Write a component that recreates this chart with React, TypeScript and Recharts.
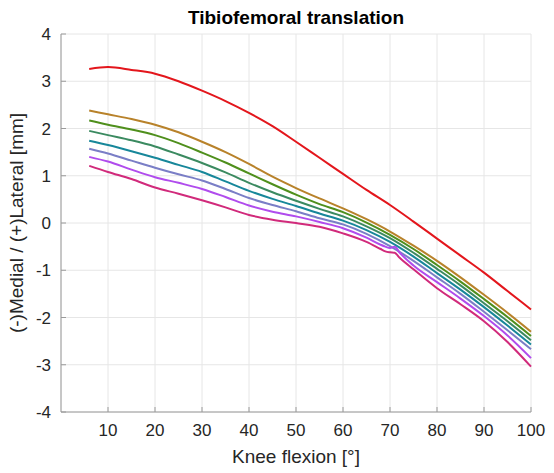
import React from 'react';
import { LineChart, Line, XAxis, YAxis, CartesianGrid } from 'recharts';

const flexion = [6, 10, 15, 20, 25, 30, 35, 40, 45, 50, 55, 60, 65, 70, 75, 80, 85, 90, 95, 100];
// the two lowest curves have a small glitch near 70 deg, so they get a few extra samples
const flexionFine = [6, 10, 15, 20, 25, 30, 35, 40, 45, 50, 55, 60, 65, 68, 69, 70, 71, 72, 75, 80, 85, 90, 95, 100];

const red = [3.26, 3.3, 3.24, 3.16, 3.0, 2.8, 2.58, 2.33, 2.05, 1.72, 1.38, 1.04, 0.7, 0.38, 0.03, -0.33, -0.69, -1.05, -1.44, -1.83];
const gold = [2.38, 2.3, 2.2, 2.08, 1.92, 1.72, 1.5, 1.25, 0.98, 0.74, 0.52, 0.31, 0.08, -0.18, -0.48, -0.8, -1.15, -1.52, -1.9, -2.3];
const green = [2.17, 2.08, 1.98, 1.86, 1.69, 1.49, 1.28, 1.05, 0.82, 0.6, 0.4, 0.23, 0.01, -0.25, -0.55, -0.89, -1.24, -1.61, -1.99, -2.39];
const seaGreen = [1.95, 1.86, 1.75, 1.62, 1.45, 1.27, 1.07, 0.85, 0.65, 0.47, 0.3, 0.14, -0.07, -0.32, -0.63, -0.97, -1.32, -1.7, -2.08, -2.48];
const teal = [1.74, 1.65, 1.52, 1.38, 1.23, 1.08, 0.88, 0.68, 0.51, 0.36, 0.2, 0.05, -0.15, -0.4, -0.71, -1.06, -1.41, -1.78, -2.17, -2.57];
const slate = [1.57, 1.47, 1.32, 1.17, 1.03, 0.9, 0.72, 0.53, 0.38, 0.25, 0.1, -0.03, -0.23, -0.49, -0.8, -1.15, -1.5, -1.88, -2.27, -2.67];
const purple = [1.4, 1.3, 1.13, 0.97, 0.85, 0.72, 0.55, 0.37, 0.24, 0.14, 0.02, -0.11, -0.31, -0.46, -0.5, -0.53, -0.5, -0.62, -0.9, -1.25, -1.6, -1.97, -2.38, -2.86];
const magenta = [1.21, 1.08, 0.93, 0.75, 0.62, 0.48, 0.33, 0.17, 0.07, 0.0, -0.08, -0.22, -0.4, -0.55, -0.6, -0.62, -0.63, -0.73, -0.98, -1.38, -1.72, -2.08, -2.52, -3.04];

const xTicks = [10, 20, 30, 40, 50, 60, 70, 80, 90, 100];
const yTicks = [-4, -3, -2, -1, 0, 1, 2, 3, 4];

const series = [
  { key: 'red', x: flexion, y: red, color: '#e3161c' },
  { key: 'gold', x: flexion, y: gold, color: '#b8822a' },
  { key: 'green', x: flexion, y: green, color: '#4f8f1c' },
  { key: 'seaGreen', x: flexion, y: seaGreen, color: '#3b8a60' },
  { key: 'teal', x: flexion, y: teal, color: '#17879a' },
  { key: 'slate', x: flexion, y: slate, color: '#7a7ec6' },
  { key: 'purple', x: flexionFine, y: purple, color: '#b04ced' },
  { key: 'magenta', x: flexionFine, y: magenta, color: '#d12a7b' },
];

const W = 554;
const H = 473;
const PLOT_LEFT = 61;
const PLOT_BOTTOM = 412;
const FONT = '"Liberation Sans", Arial, sans-serif';
const AXIS_GREY = '#9a9a9a';
const TEXT = '#262626';

const XTick = (props: any) => {
  const { x, payload } = props;
  return (
    <g>
      <line x1={x} x2={x} y1={PLOT_BOTTOM} y2={PLOT_BOTTOM - 5} stroke={AXIS_GREY} />
      <text x={x} y={PLOT_BOTTOM + 24} textAnchor="middle" fontSize={17} fill={TEXT} fontFamily={FONT}>
        {payload.value}
      </text>
    </g>
  );
};

const YTick = (props: any) => {
  const { y, payload } = props;
  return (
    <g>
      <line x1={PLOT_LEFT} x2={PLOT_LEFT + 5} y1={y} y2={y} stroke={AXIS_GREY} />
      <text x={PLOT_LEFT - 10} y={y + 6} textAnchor="end" fontSize={17} fill={TEXT} fontFamily={FONT}>
        {payload.value}
      </text>
    </g>
  );
};

export default function App() {
  return (
    <div style={{ position: 'absolute', left: 0, top: 0, width: W, height: H, background: '#fff' }}>
      <div
        style={{
          position: 'absolute',
          left: PLOT_LEFT,
          width: 470,
          top: 7,
          textAlign: 'center',
          fontFamily: FONT,
          fontWeight: 'bold',
          fontSize: 19,
          color: '#000',
          lineHeight: '22px',
        }}
      >
        Tibiofemoral translation
      </div>
      <LineChart width={W} height={H} margin={{ top: 34, right: 23, bottom: 0, left: 0 }}>
        <CartesianGrid stroke="#e6e6e6" strokeWidth={1} />
        <XAxis
          type="number"
          dataKey="x"
          domain={[0, 100]}
          ticks={xTicks}
          height={61}
          tickSize={0}
          tickLine={false}
          axisLine={{ stroke: AXIS_GREY }}
          tick={<XTick />}
          allowDuplicatedCategory={false}
          label={{
            value: 'Knee flexion [°]',
            position: 'insideBottom',
            offset: 10,
            style: { fontSize: 19, fill: TEXT, fontFamily: FONT },
          }}
        />
        <YAxis
          type="number"
          domain={[-4, 4]}
          ticks={yTicks}
          width={61}
          tickSize={0}
          tickLine={false}
          axisLine={{ stroke: AXIS_GREY }}
          tick={<YTick />}
          label={{
            value: '(-)Medial / (+)Lateral [mm]',
            angle: -90,
            position: 'insideLeft',
            offset: 16,
            style: { fontSize: 19, fill: TEXT, fontFamily: FONT, textAnchor: 'middle' },
          }}
        />
        {series.map((s) => (
          <Line
            key={s.key}
            data={s.x.map((x, i) => ({ x, y: s.y[i] }))}
            dataKey="y"
            type="monotone"
            stroke={s.color}
            strokeWidth={2}
            dot={false}
            isAnimationActive={false}
          />
        ))}
      </LineChart>
    </div>
  );
}
